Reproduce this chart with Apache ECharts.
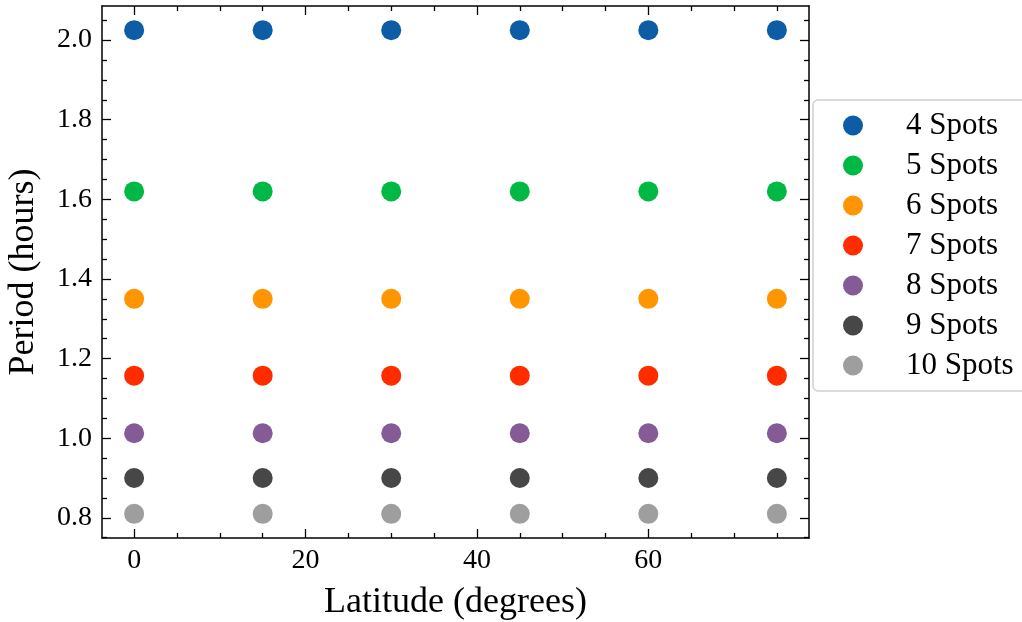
<!DOCTYPE html>
<html>
<head>
<meta charset="utf-8">
<script src="https://cdn.jsdelivr.net/npm/echarts@6/dist/echarts.min.js"></script>
<style>
html,body{margin:0;padding:0;background:#fff;}
#chart{width:1022px;height:622px;}
</style>
</head>
<body>
<div id="chart"></div>
<script>
// ---- data ----
const latitudes = [0, 15, 30, 45, 60, 75];
const spotLabels = ['4 Spots', '5 Spots', '6 Spots', '7 Spots', '8 Spots', '9 Spots', '10 Spots'];
const period4 = [2.025, 2.025, 2.025, 2.025, 2.025, 2.025];
const period5 = [1.62, 1.62, 1.62, 1.62, 1.62, 1.62];
const period6 = [1.35, 1.35, 1.35, 1.35, 1.35, 1.35];
const period7 = [1.157, 1.157, 1.157, 1.157, 1.157, 1.157];
const period8 = [1.0125, 1.0125, 1.0125, 1.0125, 1.0125, 1.0125];
const period9 = [0.9, 0.9, 0.9, 0.9, 0.9, 0.9];
const period10 = [0.81, 0.81, 0.81, 0.81, 0.81, 0.81];
const periods = [period4, period5, period6, period7, period8, period9, period10];
const colors = ['#0C5DA5', '#00B945', '#FF9500', '#FF2C00', '#845B97', '#474747', '#9E9E9E'];
const xTicks = [0, 20, 40, 60];
const yTicks = [0.8, 1.0, 1.2, 1.4, 1.6, 1.8, 2.0];

// ---- axis ranges / minor ticks ----
const xMin = -3.75, xMax = 78.75;
const yMin = 0.74925, yMax = 2.08575;
const xMinor = [];
for (let v = 5; v <= 75; v += 5) if (v % 20 !== 0) xMinor.push(v);
const yMinor = [];
for (let i = 15; i <= 41; i++) { if (i % 4 !== 0) yMinor.push(+(i * 0.05).toFixed(2)); }

const FONT = 'Liberation Serif';
const axisLineStyle = { color: '#000', width: 1.5 };

function xAxisDef(pos, ticks, len, showLine, labels) {
  return {
    type: 'value', position: pos, min: xMin, max: xMax,
    axisLine: { show: showLine, onZero: false, lineStyle: axisLineStyle },
    axisTick: { show: true, inside: true, length: len, customValues: ticks, lineStyle: { color: '#000', width: 1.3 } },
    axisLabel: labels ? { show: true, customValues: ticks, margin: 9, color: '#000', fontFamily: FONT, fontSize: 28 } : { show: false },
    splitLine: { show: false },
    name: labels ? 'Latitude (degrees)' : '',
    nameLocation: 'middle', nameGap: 47,
    nameTextStyle: { color: '#000', fontFamily: FONT, fontSize: 36 }
  };
}
function yAxisDef(pos, ticks, len, showLine, labels) {
  return {
    type: 'value', position: pos, min: yMin, max: yMax,
    axisLine: { show: showLine, onZero: false, lineStyle: axisLineStyle },
    axisTick: { show: true, inside: true, length: len, customValues: ticks, lineStyle: { color: '#000', width: 1.3 } },
    axisLabel: labels ? { show: true, customValues: ticks, margin: 10, color: '#000', fontFamily: FONT, fontSize: 28,
      formatter: v => Number(v).toFixed(1) } : { show: false },
    splitLine: { show: false },
    name: labels ? 'Period (hours)' : '',
    nameLocation: 'middle', nameGap: 60, nameRotate: 90,
    nameTextStyle: { color: '#000', fontFamily: FONT, fontSize: 36 }
  };
}

const series = spotLabels.map((name, i) => ({
  name: name,
  type: 'scatter',
  xAxisIndex: 0, yAxisIndex: 0,
  symbol: 'circle',
  symbolSize: 20,
  itemStyle: { color: colors[i], opacity: 1 },
  emphasis: { disabled: true },
  data: latitudes.map((x, j) => [x, periods[i][j]])
}));

const chart = echarts.init(document.getElementById('chart'), null, { renderer: 'canvas' });
chart.setOption({
  animation: false,
  backgroundColor: '#fff',
  color: colors,
  grid: { left: 102, right: 213, top: 6, bottom: 84, containLabel: false, outerBoundsMode: 'none' },
  xAxis: [
    xAxisDef('bottom', xTicks, 9, true, true),
    xAxisDef('bottom', xMinor, 5, false, false),
    xAxisDef('top', xTicks, 9, true, false),
    xAxisDef('top', xMinor, 5, false, false)
  ],
  yAxis: [
    yAxisDef('left', yTicks, 9, true, true),
    yAxisDef('left', yMinor, 5, false, false),
    yAxisDef('right', yTicks, 9, true, false),
    yAxisDef('right', yMinor, 5, false, false)
  ],
  legend: {
    orient: 'vertical',
    left: 813, top: 100,
    padding: [10, 20, 10, 30],
    backgroundColor: '#fff',
    borderColor: '#d0d0d0', borderWidth: 1.5, borderRadius: 5,
    itemWidth: 20, itemHeight: 20, itemGap: 9,
    icon: 'circle',
    textStyle: { color: '#000', fontFamily: FONT, fontSize: 31, lineHeight: 30, padding: [0, 0, 0, 38] },
    data: spotLabels
  },
  series: series
});
</script>
</body>
</html>
